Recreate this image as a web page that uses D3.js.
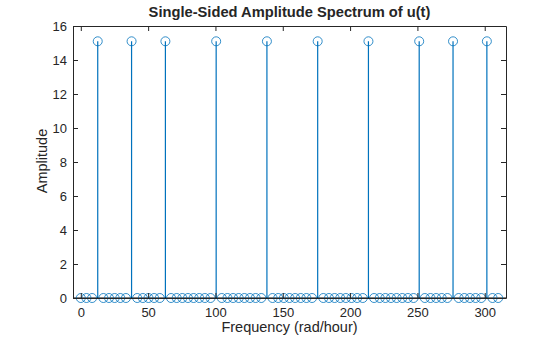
<!DOCTYPE html>
<html>
<head>
<meta charset="utf-8">
<script src="https://cdn.jsdelivr.net/npm/d3@7"></script>
<style>
  html, body { margin: 0; padding: 0; background: #fff; }
  svg { display: block; }
  text { font-family: "Liberation Sans", Arial, Helvetica, sans-serif; fill: #262626; }
</style>
</head>
<body>
<svg id="chart" width="560" height="337"></svg>
<script>
// Frequency grid (rad/hour) of the single-sided spectrum
const frequencies = [
  0.00, 4.19, 8.38, 12.57, 16.76, 20.94, 25.13, 29.32, 33.51, 37.70,
  41.89, 46.08, 50.27, 54.45, 58.64, 62.83, 67.02, 71.21, 75.40, 79.59,
  83.78, 87.96, 92.15, 96.34, 100.53, 104.72, 108.91, 113.10, 117.29, 121.47,
  125.66, 129.85, 134.04, 138.23, 142.42, 146.61, 150.80, 154.99, 159.17, 163.36,
  167.55, 171.74, 175.93, 180.12, 184.31, 188.50, 192.68, 196.87, 201.06, 205.25,
  209.44, 213.63, 217.82, 222.01, 226.19, 230.38, 234.57, 238.76, 242.95, 247.14,
  251.33, 255.52, 259.71, 263.89, 268.08, 272.27, 276.46, 280.65, 284.84, 289.03,
  293.22, 297.40, 301.59, 305.78, 309.97
];

// Amplitude at each frequency bin
const amplitudes = [
  0, 0, 0, 15.1, 0, 0, 0, 0, 0, 15.1,
  0, 0, 0, 0, 0, 15.1, 0, 0, 0, 0,
  0, 0, 0, 0, 15.1, 0, 0, 0, 0, 0,
  0, 0, 0, 15.1, 0, 0, 0, 0, 0, 0,
  0, 0, 15.1, 0, 0, 0, 0, 0, 0, 0,
  0, 15.1, 0, 0, 0, 0, 0, 0, 0, 0,
  15.1, 0, 0, 0, 0, 0, 15.1, 0, 0, 0,
  0, 0, 15.1, 0, 0
];

const xTicks = [0, 50, 100, 150, 200, 250, 300];
const yTicks = [0, 2, 4, 6, 8, 10, 12, 14, 16];

const titleText = "Single-Sided Amplitude Spectrum of u(t)";
const xLabel = "Frequency (rad/hour)";
const yLabel = "Amplitude";

const points = frequencies.map((f, i) => ({ f, a: amplitudes[i] }));

const svg = d3.select("#chart");
const margin = { left: 73, right: 54, top: 26, bottom: 39 };
const W = 560, H = 337;
const x0 = margin.left, x1 = W - margin.right;
const y0 = H - margin.bottom, y1 = margin.top;

const x = d3.scaleLinear().domain([-5.8, 315.8]).range([x0, x1]);
const y = d3.scaleLinear().domain([0, 16]).range([y0, y1]);

const stemColor = "#0072BD";
const axisColor = "#262626";
const tickLen = 5;

const plot = svg.append("g");

// stems
plot.selectAll("line.stem")
  .data(points.filter(d => d.a !== 0))
  .join("line")
  .attr("class", "stem")
  .attr("x1", d => x(d.f)).attr("x2", d => x(d.f))
  .attr("y1", y(0)).attr("y2", d => y(d.a))
  .attr("stroke", stemColor)
  .attr("stroke-width", 1.2);

// baseline
plot.append("line")
  .attr("x1", x0).attr("x2", x1)
  .attr("y1", y(0)).attr("y2", y(0))
  .attr("stroke", "#000").attr("stroke-width", 1);

// markers
plot.selectAll("circle.mk")
  .data(points)
  .join("circle")
  .attr("class", "mk")
  .attr("cx", d => x(d.f))
  .attr("cy", d => y(d.a))
  .attr("r", 4.5)
  .attr("fill", "none")
  .attr("stroke", stemColor)
  .attr("stroke-width", 0.8);

// axes (ticks pointing inward, box on)
const axisBottom = d3.axisBottom(x).tickValues(xTicks).tickSizeInner(-tickLen).tickSizeOuter(0).tickPadding(10);
const axisTop = d3.axisTop(x).tickValues(xTicks).tickSizeInner(-tickLen).tickSizeOuter(0).tickFormat("");
const axisLeft = d3.axisLeft(y).tickValues(yTicks).tickSizeInner(-tickLen).tickSizeOuter(0).tickPadding(6);
const axisRight = d3.axisRight(y).tickValues(yTicks).tickSizeInner(-tickLen).tickSizeOuter(0).tickFormat("");

function style(g) {
  g.select(".domain").attr("stroke", axisColor).attr("stroke-width", 1);
  g.selectAll(".tick line").attr("stroke", axisColor).attr("stroke-width", 1);
  g.selectAll(".tick text")
    .attr("fill", axisColor)
    .style("font-family", '"Liberation Sans", Arial, Helvetica, sans-serif')
    .style("font-size", "13px");
}

svg.append("g").attr("transform", `translate(0,${y0})`).call(axisBottom).call(style);
svg.append("g").attr("transform", `translate(0,${y1})`).call(axisTop).call(style);
svg.append("g").attr("transform", `translate(${x0},0)`).call(axisLeft).call(style);
svg.append("g").attr("transform", `translate(${x1},0)`).call(axisRight).call(style);

// title and labels
svg.append("text")
  .attr("x", (x0 + x1) / 2).attr("y", 17)
  .attr("text-anchor", "middle")
  .style("font-size", "14.7px").style("font-weight", "bold")
  .attr("fill", "#000")
  .text(titleText);

svg.append("text")
  .attr("x", (x0 + x1) / 2).attr("y", 332)
  .attr("text-anchor", "middle")
  .style("font-size", "14.5px")
  .text(xLabel);

svg.append("text")
  .attr("transform", `translate(47,${(y0 + y1) / 2 - 1}) rotate(-90)`)
  .attr("text-anchor", "middle")
  .style("font-size", "14.5px")
  .text(yLabel);
</script>
</body>
</html>
